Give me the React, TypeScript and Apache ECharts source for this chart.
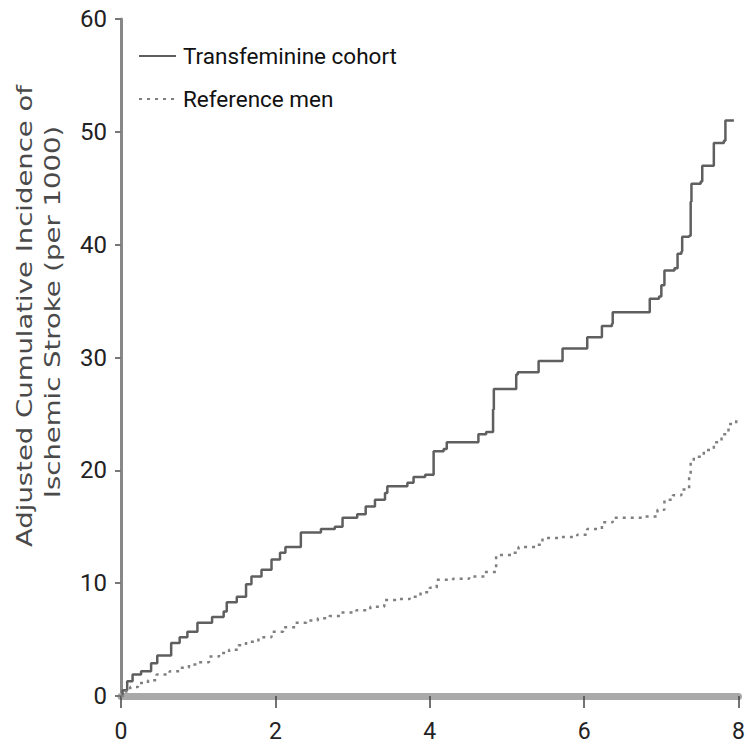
import React, { useEffect, useRef } from "react";
import * as echarts from "echarts";

const xTicks = [0, 2, 4, 6, 8];
const yTicks = [0, 10, 20, 30, 40, 50, 60];

const seriesNames = ["Transfeminine cohort", "Reference men"];
const yTitleLines = ["Adjusted Cumulative Incidence of", "Ischemic Stroke (per 1000)"];

const transfemTimes = [
  0, 0.02, 0.08, 0.15, 0.26, 0.39, 0.47, 0.65, 0.76, 0.86,
  0.99, 1.18, 1.33, 1.37, 1.5, 1.62, 1.69, 1.82, 1.95, 2.06,
  2.13, 2.33, 2.59, 2.77, 2.87, 3.06, 3.17, 3.29, 3.42, 3.45,
  3.71, 3.79, 3.94, 4.05, 4.18, 4.22, 4.63, 4.73, 4.82, 4.83,
  5.12, 5.14, 5.41, 5.72, 6.04, 6.23, 6.36, 6.37, 6.85, 6.97,
  7.0, 7.04, 7.17, 7.21, 7.26, 7.27, 7.36, 7.38, 7.39, 7.51,
  7.53, 7.68, 7.81, 7.83, 7.94,
];
const transfemValues = [
  0, 0.5, 1.3, 1.9, 2.2, 2.9, 3.6, 4.7, 5.2, 5.7,
  6.5, 7.0, 7.5, 8.3, 8.8, 9.9, 10.6, 11.2, 12.1, 12.7,
  13.2, 14.5, 14.8, 15.0, 15.8, 16.1, 16.8, 17.4, 18.0, 18.6,
  18.9, 19.4, 19.6, 21.7, 21.9, 22.5, 23.2, 23.4, 25.4, 27.2,
  28.5, 28.7, 29.7, 30.8, 31.8, 32.8, 33.0, 34.0, 35.2, 35.4,
  36.4, 37.7, 37.9, 39.2, 39.4, 40.7, 40.8, 43.8, 45.4, 45.6,
  47.0, 49.0, 49.2, 51.0, 51.0,
];

const refTimes = [
  0, 0.05, 0.12, 0.22, 0.35, 0.46, 0.63, 0.76, 0.88, 1.01,
  1.14, 1.27, 1.4, 1.52, 1.62, 1.78, 1.95, 2.1, 2.26, 2.4,
  2.55, 2.7, 2.85, 3.05, 3.23, 3.41, 3.58, 3.74, 3.88, 4.0,
  4.09, 4.3, 4.51, 4.71, 4.86, 5.08, 5.15, 5.37, 5.46, 5.7,
  5.91, 6.04, 6.23, 6.37, 6.78, 6.95, 7.04, 7.15, 7.26, 7.36,
  7.38, 7.42, 7.55, 7.68, 7.78, 7.87, 7.97,
];
const refValues = [
  0, 0.4, 0.8, 1.15, 1.4, 1.9, 2.2, 2.5, 2.8, 3.0,
  3.5, 3.8, 4.1, 4.5, 4.8, 5.2, 5.7, 6.1, 6.5, 6.7,
  6.9, 7.1, 7.4, 7.6, 7.9, 8.5, 8.6, 8.8, 9.2, 9.6,
  10.3, 10.4, 10.6, 11.0, 12.5, 12.7, 13.2, 13.4, 14.0, 14.1,
  14.3, 14.8, 15.4, 15.8, 15.9, 16.5, 17.4, 17.8, 18.3, 19.5,
  20.7, 21.2, 21.8, 22.5, 23.2, 24.1, 24.5,
];

const NARROW = 'Roboto, "Liberation Sans", sans-serif';
const WIDE = '"DejaVu Sans", Verdana, sans-serif';

export default function App() {
  const ref = useRef<HTMLDivElement>(null);

  useEffect(() => {
    if (!ref.current) return;
    const chart = echarts.init(ref.current, undefined, { renderer: "svg" });
    const pair = (t: number[], v: number[]) => t.map((x, i) => [x, v[i]]);
    const titleText = (text: string, x: number, y: number) => ({
      type: "text",
      x,
      y,
      rotation: Math.PI / 2,
      scaleX: 1.25,
      style: {
        text,
        fontFamily: WIDE,
        fontSize: 22,
        fill: "#4a4a4a",
        align: "center",
        verticalAlign: "middle",
      },
    });
    chart.setOption({
      animation: false,
      backgroundColor: "#ffffff",
      grid: { left: 121, right: 3, top: 19, bottom: 50, containLabel: false },
      xAxis: {
        type: "value",
        min: xTicks[0],
        max: xTicks[xTicks.length - 1],
        interval: 2,
        axisLine: { show: true, lineStyle: { color: "#a9a9a9", width: 7 } },
        axisTick: { show: true, inside: false, length: 12, lineStyle: { color: "#444", width: 1.5 } },
        axisLabel: { margin: 24, fontFamily: NARROW, fontSize: 23, lineHeight: 23, color: "#222" },
        splitLine: { show: false },
      },
      yAxis: {
        type: "value",
        min: yTicks[0],
        max: yTicks[yTicks.length - 1],
        interval: 10,
        axisLine: { show: true, lineStyle: { color: "#888", width: 3 } },
        axisTick: { show: true, length: 6, lineStyle: { color: "#777", width: 2 } },
        axisLabel: { margin: 14, fontFamily: NARROW, fontSize: 24, color: "#222" },
        splitLine: { show: false },
      },
      legend: {
        orient: "vertical",
        left: 133,
        top: 36,
        itemWidth: 37,
        itemHeight: 14,
        itemGap: 13,
        itemStyle: { opacity: 0 },
        textStyle: { fontFamily: NARROW, fontSize: 22.5, color: "#111", lineHeight: 30, padding: [0, 0, 0, 2] },
        data: seriesNames,
      },
      graphic: [titleText(yTitleLines[0], 24, 316), titleText(yTitleLines[1], 52, 312)],
      series: [
        {
          name: seriesNames[0],
          type: "line",
          step: "end",
          symbol: "none",
          data: pair(transfemTimes, transfemValues),
          lineStyle: { color: "#5f5f5f", width: 2.5, type: "solid" },
          itemStyle: { color: "#5f5f5f" },
        },
        {
          name: seriesNames[1],
          type: "line",
          step: "end",
          symbol: "none",
          data: pair(refTimes, refValues),
          lineStyle: { color: "#808080", width: 2.5, type: [3, 5] },
          itemStyle: { color: "#808080" },
        },
      ],
    });
    return () => chart.dispose();
  }, []);

  return (
    <div
      ref={ref}
      style={{ position: "fixed", left: 0, top: 0, width: 748, height: 746, background: "#fff" }}
    />
  );
}
